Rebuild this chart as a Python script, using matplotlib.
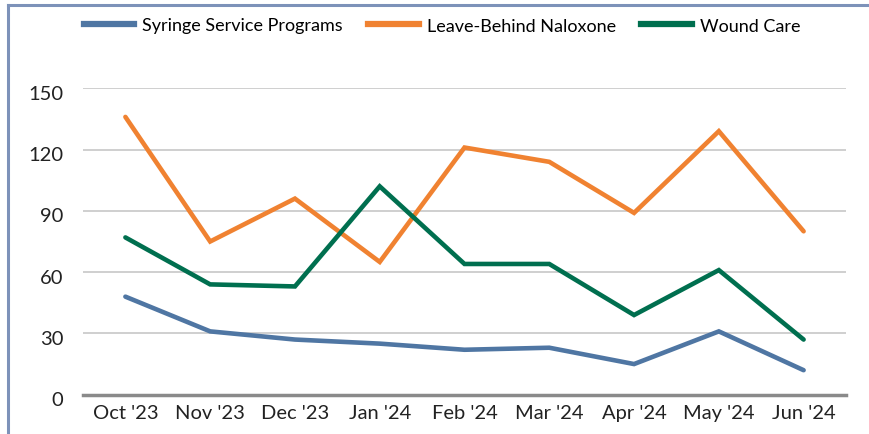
import matplotlib
matplotlib.use("Agg")
import matplotlib.pyplot as plt
import matplotlib.transforms as mtransforms
from matplotlib.lines import Line2D

months = ["Oct '23", "Nov '23", "Dec '23", "Jan '24", "Feb '24", "Mar '24", "Apr '24", "May '24", "Jun '24"]
syringe = [48, 31, 27, 25, 22, 23, 15, 31, 12]
naloxone = [136, 75, 96, 65, 121, 114, 89, 129, 80]
wound = [77, 54, 53, 102, 64, 64, 39, 61, 27]
series_names = ["Syringe Service Programs", "Leave-Behind Naloxone", "Wound Care"]
colors = ["#4f76a3", "#f08231", "#006f4f"]
yticks = [0, 30, 60, 90, 120, 150]

plt.rcParams['font.family'] = ['Lato', 'DejaVu Sans']

fig = plt.figure(figsize=(8.7, 4.35), dpi=100)
ax = fig.add_axes([83/870, 1-395.7/435, (846-83)/870, (395.7-89.3)/435])

x = list(range(len(months)))
for vals, c, name in zip([syringe, naloxone, wound], colors, series_names):
    ax.plot(x, vals, color=c, lw=3.3, label=name, solid_capstyle='round',
            solid_joinstyle='miter', clip_on=False, zorder=3)

ax.set_xlim(-0.5, 8.5)
ax.set_ylim(0, 150)
ax.set_yticks(yticks)
ax.set_xticks(x)
ax.set_xticklabels(months)
ax.tick_params(axis='both', length=0, labelsize=14.5, colors='#222222')
ax.tick_params(axis='y', pad=14)
ax.tick_params(axis='x', pad=7)
ax.grid(axis='y', color='#cccccc', lw=1.3)
ax.set_axisbelow(True)
for s in ['left', 'right', 'top']:
    ax.spines[s].set_visible(False)
ax.spines['bottom'].set_color('#8a8a8a')
ax.spines['bottom'].set_linewidth(2.5)
ax.spines['bottom'].set_zorder(4)

offset = mtransforms.ScaledTranslation(0, -3.5/100, fig.dpi_scale_trans)
for lbl in ax.get_yticklabels():
    lbl.set_transform(lbl.get_transform() + offset)

handles = [Line2D([], [], color=c, lw=4.5) for c in colors]
fig.legend(handles, series_names, loc='center', bbox_to_anchor=(442/870, 1-26.5/435),
           ncol=3, frameon=False, fontsize=13, handlelength=2.8, handletextpad=0.45,
           columnspacing=1.4)

# figure border (left and top)
fig.add_artist(Line2D([8.5/870, 8.5/870], [0, 1-5.5/435], transform=fig.transFigure,
                      color='#7d92b9', lw=2.2))
fig.add_artist(Line2D([8.5/870, 1], [1-5.5/435, 1-5.5/435], transform=fig.transFigure,
                      color='#7d92b9', lw=2.2))

fig.savefig("out.png", dpi=100)
